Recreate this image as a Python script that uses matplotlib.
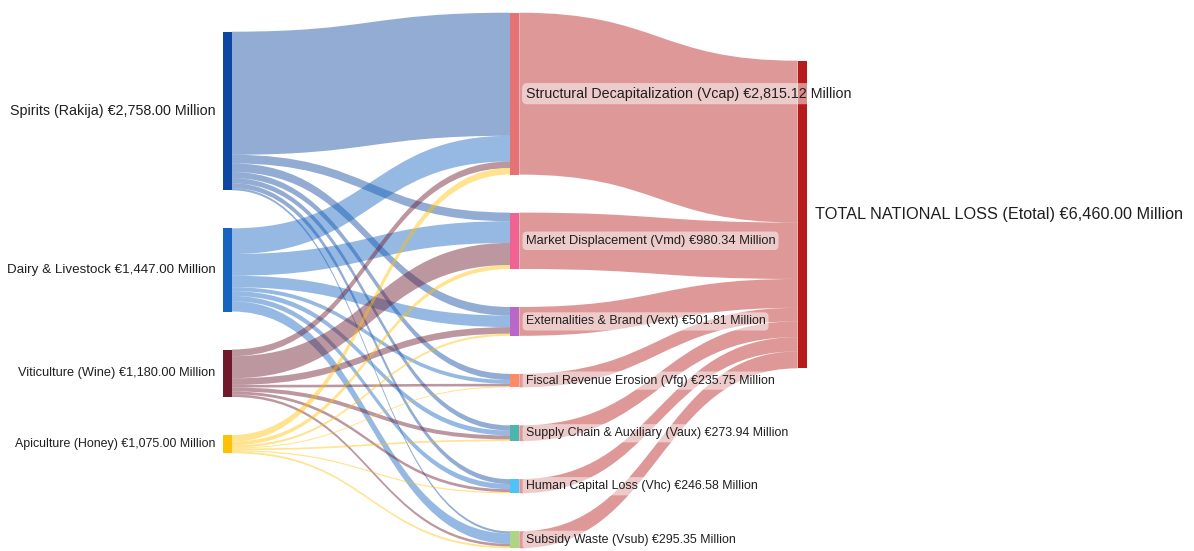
import matplotlib
matplotlib.use("Agg")
import matplotlib.pyplot as plt
from matplotlib.path import Path
from matplotlib.patches import PathPatch, Rectangle
from matplotlib.colors import to_rgba

# ---- data (€ million) ----
sectors = ["Spirits (Rakija)", "Dairy & Livestock", "Viticulture (Wine)", "Apiculture (Honey)"]
sector_losses = [2758.00, 1447.00, 1180.00, 1075.00]

channels = [
    "Structural Decapitalization (Vcap)",
    "Market Displacement (Vmd)",
    "Externalities & Brand (Vext)",
    "Fiscal Revenue Erosion (Vfg)",
    "Supply Chain & Auxiliary (Vaux)",
    "Human Capital Loss (Vhc)",
    "Subsidy Waste (Vsub)",
]
channel_losses = [2815.12, 980.34, 501.81, 235.75, 273.94, 246.58, 295.35]

total_name = "TOTAL NATIONAL LOSS (Etotal)"
total_loss = 6460.00

# sector -> channel flows, one entry per channel
spirits_flows = [2140.00, 150.00, 150.00, 105.00, 90.00, 85.00, 38.00]
dairy_flows = [447.00, 377.00, 200.00, 68.00, 85.00, 90.00, 180.00]
viticulture_flows = [115.00, 385.00, 115.00, 45.00, 70.00, 50.00, 45.00]
apiculture_flows = [113.12, 68.34, 36.81, 17.75, 28.94, 21.58, 32.35]
sector_flows = [spirits_flows, dairy_flows, viticulture_flows, apiculture_flows]

# ---- styling ----
sector_colors = ["#0D47A1", "#1565C0", "#6E1A2C", "#FFC107"]
channel_colors = ["#E57373", "#F06292", "#BA68C8", "#FF8A65", "#4DB6AC", "#4FC3F7", "#AED581"]
total_color = "#B71C1C"
link_alpha = 0.45

sector_font = [10.3, 9.6, 9.2, 8.9]
channel_font = [10.3, 9.3, 8.9, 8.9, 8.9, 8.9, 8.9]
total_font = 11.7

W, H = 1194, 551
fig = plt.figure(figsize=(W / 100, H / 100), dpi=100)
ax = fig.add_axes([0, 0, 1, 1])
ax.set_xlim(0, W)
ax.set_ylim(H, 0)
ax.axis("off")

# layout in pixel units
scale = 0.05751          # px per € million
pad = 38.0               # gap between nodes in a column
node_w = 9.3
col_x = [222.7, 510.0, 797.7]
col_top = [31.7, 12.7, 60.7]


def stack(values, top):
    spans = []
    y = top
    for v in values:
        h = v * scale
        spans.append((y, y + h))
        y += h + pad
    return spans


sector_size = [sum(f) for f in sector_flows]
channel_size = [sum(f[j] for f in sector_flows) for j in range(len(channels))]
total_size = sum(channel_size)

sector_span = stack(sector_size, col_top[0])
channel_span = stack(channel_size, col_top[1])
total_span = stack([total_size], col_top[2])[0]


def link(x0, y0a, y0b, x1, y1a, y1b, color):
    xm = (x0 + x1) / 2
    verts = [
        (x0, y0a), (xm, y0a), (xm, y1a), (x1, y1a),
        (x1, y1b), (xm, y1b), (xm, y0b), (x0, y0b), (x0, y0a),
    ]
    codes = [Path.MOVETO, Path.CURVE4, Path.CURVE4, Path.CURVE4,
             Path.LINETO, Path.CURVE4, Path.CURVE4, Path.CURVE4, Path.CLOSEPOLY]
    ax.add_patch(PathPatch(Path(verts, codes), facecolor=to_rgba(color, link_alpha),
                           edgecolor="none", zorder=1))


# sector -> channel links
src_cursor = [s[0] for s in sector_span]
dst_cursor = [c[0] for c in channel_span]
for i, flows in enumerate(sector_flows):
    for j, v in enumerate(flows):
        h = v * scale
        y0 = src_cursor[i]
        src_cursor[i] += h
    # targets are filled in source order below
dst_offsets = {}
for j in range(len(channels)):
    y = channel_span[j][0]
    for i, flows in enumerate(sector_flows):
        h = flows[j] * scale
        dst_offsets[(i, j)] = (y, y + h)
        y += h

for i, flows in enumerate(sector_flows):
    y = sector_span[i][0]
    for j, v in enumerate(flows):
        h = v * scale
        t0, t1 = dst_offsets[(i, j)]
        link(col_x[0] + node_w, y, y + h, col_x[1], t0, t1, sector_colors[i])
        y += h

# channel -> total links
y = total_span[0]
for j, v in enumerate(channel_size):
    h = v * scale
    c0, c1 = channel_span[j]
    link(col_x[1] + node_w, c0, c1, col_x[2], y, y + h, total_color)
    y += h

# nodes
for i, (a, b) in enumerate(sector_span):
    ax.add_patch(Rectangle((col_x[0], a), node_w, b - a, facecolor=sector_colors[i],
                           edgecolor="none", zorder=3))
for j, (a, b) in enumerate(channel_span):
    ax.add_patch(Rectangle((col_x[1], a), node_w, b - a, facecolor=channel_colors[j],
                           edgecolor="none", zorder=3))
ax.add_patch(Rectangle((col_x[2], total_span[0]), node_w, total_span[1] - total_span[0],
                       facecolor=total_color, edgecolor="none", zorder=3))

# labels
txt_kw = dict(family=["Liberation Sans", "DejaVu Sans"], color="#1f1f1f", zorder=5)


def money(v):
    return f"€{v:,.2f} Million"


for i, (a, b) in enumerate(sector_span):
    ax.text(col_x[0] - 7, (a + b) / 2, f"{sectors[i]} {money(sector_losses[i])}",
            ha="right", va="center", fontsize=sector_font[i], **txt_kw)

for j, (a, b) in enumerate(channel_span):
    ax.text(col_x[1] + node_w + 6.4, (a + b) / 2, f"{channels[j]} {money(channel_losses[j])}",
            ha="left", va="center", fontsize=channel_font[j],
            bbox=dict(boxstyle="round,pad=0.25,rounding_size=0.35",
                      facecolor=(1, 1, 1, 0.5), edgecolor="none"),
            **txt_kw)

ax.text(col_x[2] + node_w + 8, (total_span[0] + total_span[1]) / 2,
        f"{total_name} {money(total_loss)}", ha="left", va="center",
        fontsize=total_font, **txt_kw)

fig.savefig("out.png", dpi=100, facecolor="white")
